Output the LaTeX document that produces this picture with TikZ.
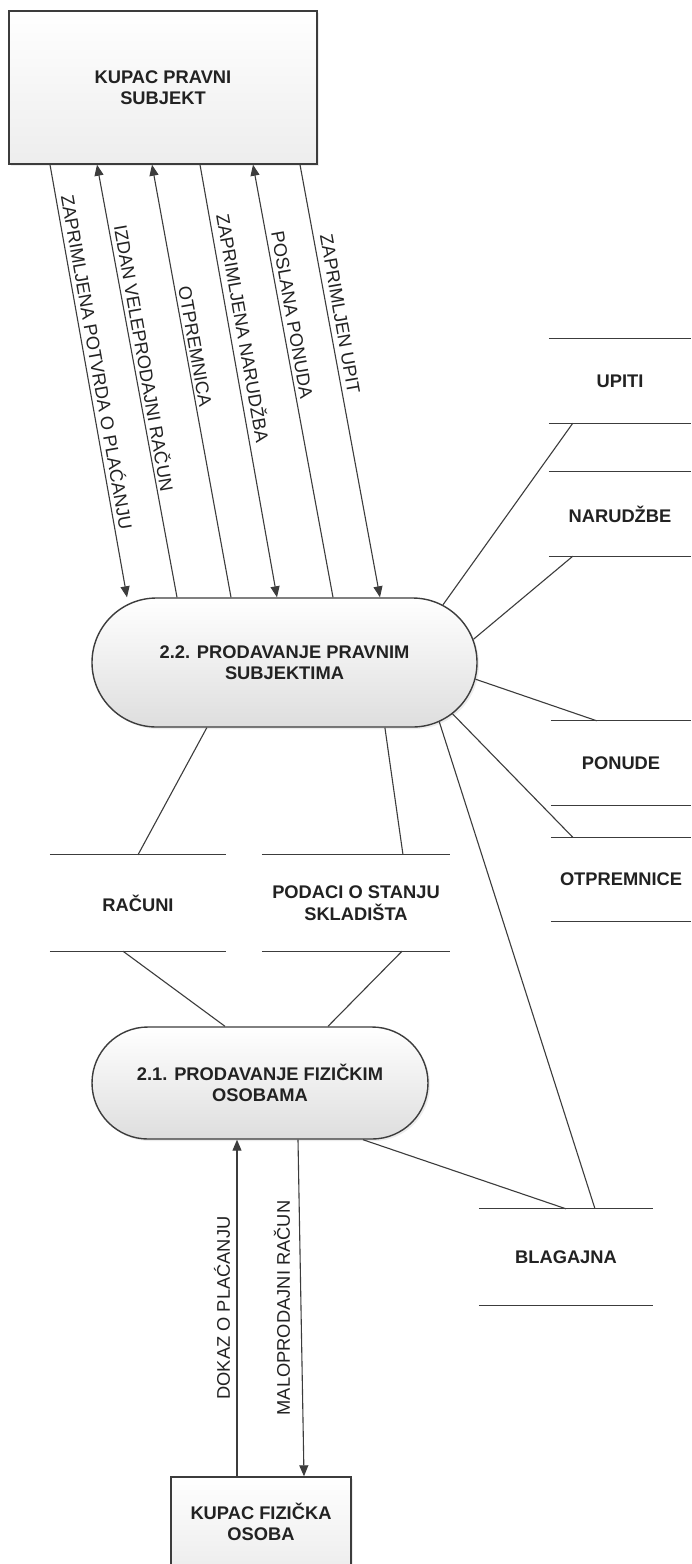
\documentclass[tikz,border=0pt]{standalone}
\usepackage{fontspec}
\setmainfont{Liberation Sans}
\usetikzlibrary{shapes.misc,arrows.meta,calc,shadows}
\definecolor{ln}{HTML}{3C3C3C}
\definecolor{tx}{HTML}{222222}
\begin{document}
\begin{tikzpicture}[x=1pt,y=-1pt,
  every node/.style={text=tx},
  fnt/.style={font=\fontsize{18.3}{21.5}\selectfont},
  bfnt/.style={font=\bfseries\fontsize{18.3}{21.5}\selectfont},
  ent/.style={draw=ln, line width=1.4pt, rectangle, top color=white, bottom color=black!7,
    align=center, bfnt, inner sep=0pt,
    drop shadow={shadow xshift=2pt, shadow yshift=-2pt, opacity=0.15}},
  proc/.style={draw=ln, line width=1.4pt, rounded rectangle, top color=white, bottom color=black!13,
    align=center, bfnt, inner sep=0pt,
    drop shadow={shadow xshift=2pt, shadow yshift=-2pt, opacity=0.15}},
  store/.style={minimum height=84pt, inner sep=0pt, bfnt, align=center},
  storeline/.style={draw=ln, line width=1.3pt},
  flow/.style={draw=ln, line width=1.1pt},
  arr/.style={flow, -{Triangle[length=11pt,width=9pt]}},
  lbl/.style={rotate=-80, inner sep=0pt, fnt},
  vlbl/.style={rotate=90, inner sep=0pt, fnt}]
\useasboundingbox (0,0) rectangle (691,1564);
\fill[white] (0,0) rectangle (691,1564);

% entities and processes
\node[ent, minimum width=308pt, minimum height=153pt] (kpr) at (163,87.5) {KUPAC PRAVNI\\SUBJEKT};
\node[proc, minimum width=385pt, minimum height=129pt] (p22) at (284.5,662.5) {2.2. PRODAVANJE PRAVNIM\\SUBJEKTIMA};
\node[proc, minimum width=336pt, minimum height=112pt] (p21) at (260,1083) {2.1. PRODAVANJE FIZIČKIM\\OSOBAMA};
\node[ent, minimum width=180pt, minimum height=90pt] (kfo) at (261,1522) {KUPAC FIZIČKA\\OSOBA};

% data stores
\node[store, minimum width=142pt] (upi) at (620,381) {UPITI};
\node[store, minimum width=142pt] (nar) at (620,514) {NARUDŽBE};
\node[store, minimum width=140pt] (pon) at (621,763) {PONUDE};
\node[store, minimum width=140pt] (otp) at (621,879.5) {OTPREMNICE};
\node[store, minimum width=176pt, minimum height=96pt] (rac) at (138,903) {RAČUNI};
\node[store, minimum width=188pt, minimum height=96pt] (pod) at (356,903) {PODACI O STANJU\\SKLADIŠTA};
\node[store, minimum width=174pt, minimum height=96pt] (bla) at (566,1257) {BLAGAJNA};
\foreach \s in {upi,nar,pon,otp,rac,pod,bla}
  \draw[storeline] (\s.north west) -- (\s.north east) (\s.south west) -- (\s.south east);

% flows between KUPAC PRAVNI SUBJEKT and 2.2
\draw[arr] ($(kpr.south)+(-113,0)$) -- ($(p22.north)+(-157.5,0)$);
\draw[arr] ($(p22.north)+(-107.5,0)$) -- ($(kpr.south)+(-66,0)$);
\draw[arr] ($(p22.north)+(-53.5,0)$) -- ($(kpr.south)+(-11,0)$);
\draw[arr] ($(kpr.south)+(37,0)$) -- ($(p22.north)+(-7.5,0)$);
\draw[arr] ($(p22.north)+(48.5,0)$) -- ($(kpr.south)+(90,0)$);
\draw[arr] ($(kpr.south)+(137,0)$) -- ($(p22.north)+(95.5,0)$);

\node[lbl] (l1) at (98,362) {ZAPRIMLJENA POTVRDA O PLAĆANJU};
\node[lbl] (l2) at (145,358) {IZDAN VELEPRODAJNI RAČUN};
\node[lbl] (l3) at (195,346) {OTPREMNICA};
\node[lbl] (l4) at (244,328) {ZAPRIMLJENA NARUDŽBA};
\node[lbl] (l5) at (292,315) {POSLANA PONUDA};
\node[lbl] (l6) at (340,314) {ZAPRIMLJEN UPIT};

% 2.2 to stores
\draw[flow] (p22.20.5) -- ($(upi.south west)+(24,0)$);
\draw[flow] (p22.7.8) -- ($(nar.south west)+(24,0)$);
\draw[flow] (p22.-5) -- ($(pon.north west)+(46,0)$);
\draw[flow] (p22.-17.7) -- ($(otp.north west)+(22,0)$);
\draw[flow] (p22.-21.5) -- ($(bla.north)+(29,0)$);
\draw[flow] (p22.-33.8) -- ($(pod.north)+(47,0)$);
\draw[flow] (p22.-140.6) -- (rac.north);

% stores to 2.1
\draw[flow] ($(rac.south)+(-15,0)$) -- ($(p21.north)+(-35,0)$);
\draw[flow] ($(pod.south)+(46,0)$) -- ($(p21.north)+(68,0)$);
\draw[flow] ($(p21.south)+(103,0)$) -- (bla.north);

% flows between 2.1 and KUPAC FIZIČKA OSOBA
\draw[arr] ($(kfo.north)+(-24,0)$) -- ($(p21.south)+(-23,0)$);
\draw[arr] ($(p21.south)+(38,0)$) -- ($(kfo.north)+(43,0)$);
\node[vlbl] (l7) at (222,1308) {DOKAZ O PLAĆANJU};
\node[vlbl] (l8) at (282,1308) {MALOPRODAJNI RAČUN};
\end{tikzpicture}
\end{document}
